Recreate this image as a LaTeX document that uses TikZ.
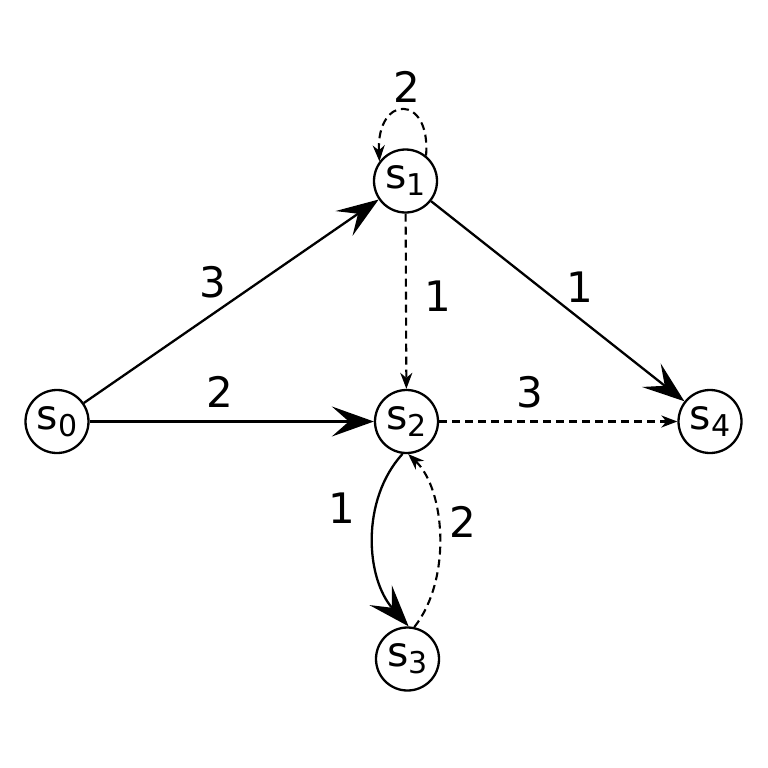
\documentclass[tikz,border=0pt]{standalone}
\usepackage{fontspec}
\setmainfont{DejaVu Sans}
\usetikzlibrary{arrows.meta}
\newcommand\subdig[1]{\raisebox{-7bp}{\fontsize{30bp}{30bp}\selectfont #1}}
\begin{document}
\begin{tikzpicture}[x=1bp,y=-1bp,
 st/.style={circle,draw,line width=2.3bp,minimum size=63bp,inner sep=0pt,font=\fontsize{41bp}{41bp}\selectfont},
 solidedge/.style={line width=2.3bp,-{Stealth[length=42bp,width=30bp,inset=17bp]}},
 dashedge/.style={line width=2.1bp,dash pattern=on 8bp off 5bp,-{Stealth[length=16bp,width=12bp,inset=5bp]}},
 lbl/.style={inner sep=0pt,font=\fontsize{42bp}{42bp}\selectfont}]
\useasboundingbox (0,0) rectangle (768,768);
\node[st] (s0) at (57,421.5) {s\subdig{0}};
\node[st] (s1) at (405.5,181) {s\subdig{1}};
\node[st] (s2) at (406.5,421.5) {s\subdig{2}};
\node[st] (s3) at (407.5,659) {s\subdig{3}};
\node[st] (s4) at (710,421.5) {s\subdig{4}};
\draw[solidedge] (s0) -- (s1);
\draw[solidedge] (s0) -- (s2);
\draw[solidedge] (s1) -- (s4);
\draw[dashedge] (s1) -- (s2);
\draw[dashedge] (s2) -- (s4);
\draw[dashedge] (s1.51) .. controls +(5,-62) and +(-3,-67) .. (s1.143);
\draw[solidedge] (s2.-97) .. controls +(-42,46) and +(-43,-48) .. (s3.88);
\draw[dashedge] (s3.78) .. controls +(38,-48) and +(37,35) .. (s2.-87);
\node[lbl] (l11) at (407,87) {2};
\node[lbl] (l01) at (213,282) {3};
\node[lbl] (l02) at (220,392) {2};
\node[lbl] (l12) at (438,296) {1};
\node[lbl] (l14) at (580,287) {1};
\node[lbl] (l24) at (530,392) {3};
\node[lbl] (l23) at (342,508) {1};
\node[lbl] (l32) at (463,522) {2};
\end{tikzpicture}
\end{document}
